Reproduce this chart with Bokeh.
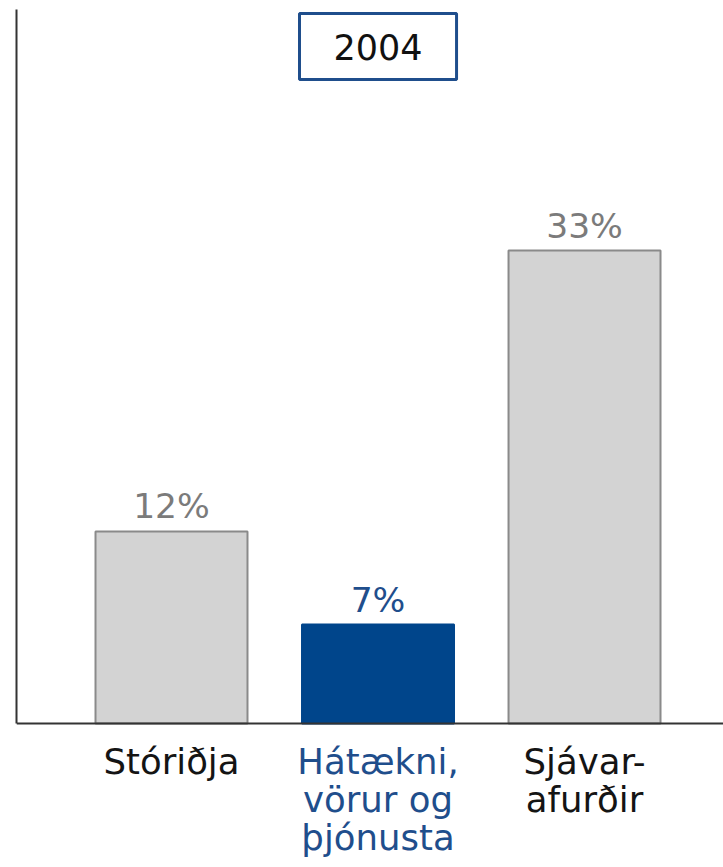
from bokeh.plotting import figure
from bokeh.models import ColumnDataSource, Range1d, FixedTicker, Span, Label
from bokeh.core.properties import value
from bokeh.embed import file_html
from bokeh.resources import INLINE

# ---- data ----
categories = ["Stóriðja", "Hátækni,\nvörur og\nþjónusta", "Sjávar-\nafurðir"]
bar_heights = [13.4, 6.9, 33.0]          # drawn bar heights, in % units
value_labels = ["12%", "7%", "33%"]
year = "2004"

fill_colors = ["#d3d3d3", "#00458b", "#d3d3d3"]
line_colors = ["#8a8a8a", "#00458b", "#8a8a8a"]
value_colors = ["#7b7b7b", "#1f4e8c", "#7b7b7b"]
cat_colors = ["#141414", "#1f4e8c", "#141414"]

FONT = "DejaVu Sans"

src = ColumnDataSource(dict(
    x=list(range(len(categories))),
    top=bar_heights,
    lab=value_labels,
    cat=categories,
    fill=fill_colors,
    line=line_colors,
    vcol=value_colors,
    ccol=cat_colors,
))

p = figure(width=723, height=867, output_backend="svg", toolbar_location=None,
           x_range=Range1d(-0.7506, 2.673), y_range=Range1d(-10.05, 50.45),
           x_axis_location=None,
           min_border_left=16, min_border_right=0, min_border_top=0, min_border_bottom=0)
p.outline_line_color = None
p.grid.visible = False
p.background_fill_color = "white"

yax = p.yaxis[0]
yax.ticker = FixedTicker(ticks=[])
yax.major_tick_out = 0
yax.major_tick_in = 0
yax.minor_tick_out = 0
yax.minor_tick_in = 0
yax.major_label_standoff = 0
yax.axis_line_color = "#333333"
yax.axis_line_width = 2
yax.bounds = (0, 49.8)

p.add_layout(Span(location=0, dimension="width", line_color="#333333", line_width=2))

p.vbar(x="x", top="top", bottom=0, width=0.736, fill_color="fill",
       line_color="line", line_width=2, source=src)

p.text(x="x", y="top", text="lab", text_color="vcol", text_font=value(FONT),
       text_font_size="34.5px", text_align="center", text_baseline="alphabetic",
       y_offset=-25, source=src)

p.text(x="x", y=0, text="cat", text_color="ccol", text_font=value(FONT),
       text_font_size="35.5px", text_align="center", text_baseline="top",
       text_line_height=0.92, y_offset=18, source=src)

p.add_layout(Label(x=1, y=47.24, text=year, text_align="center", text_baseline="middle",
                   text_font=FONT, text_font_size="35px", text_color="#111111",
                   border_line_color="#1f4e8c", border_line_width=3,
                   background_fill_color="white", padding=(34, 34, 20, 20)))

open("out.html", "w").write(file_html(p, INLINE, title="2004"))
